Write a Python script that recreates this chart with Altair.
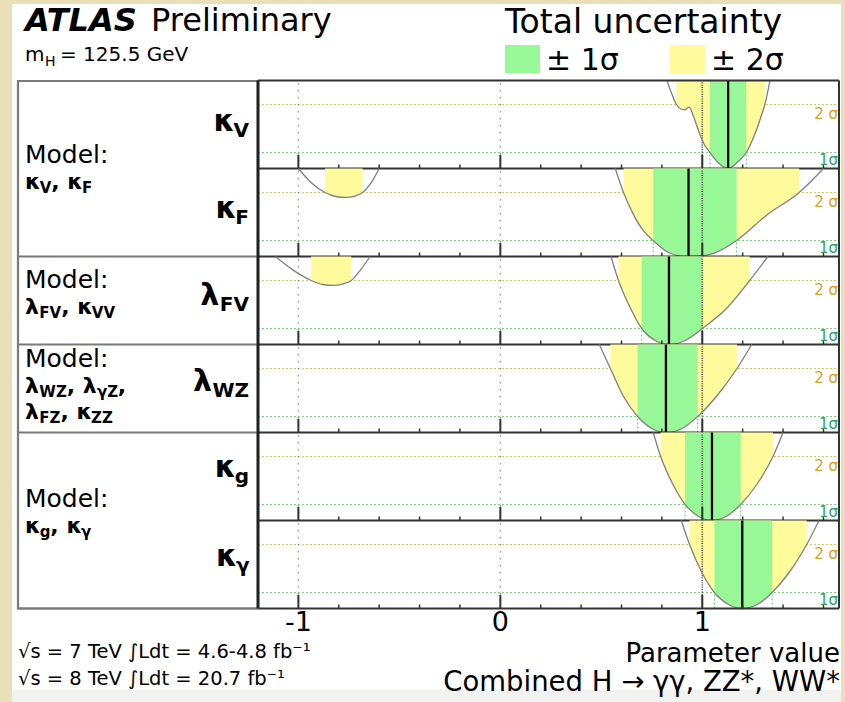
import altair as alt
import pandas as pd

# ---------------- data (-2 ln Lambda scans) ----------------
kV_x = [0.825, 0.848, 0.872, 0.895, 0.915, 0.935, 0.958, 0.982, 1.008, 1.038, 1.080, 1.128, 1.175, 1.218, 1.262, 1.290, 1.310, 1.335]
kV_v = [5.5, 4.7, 4.0, 3.72, 3.67, 3.83, 3.2, 2.35, 1.55, 1.0, 0.35, 0.0, 0.40, 1.0, 2.2, 3.2, 4.0, 5.5]

kF_x = [0.569, 0.610, 0.660, 0.710, 0.757, 0.825, 0.880, 0.932, 0.990, 1.056, 1.170, 1.320, 1.480, 1.600]
kF_v = [5.5, 4.0, 2.6, 1.58, 1.0, 0.30, 0.06, 0.0, 0.03, 0.20, 1.0, 2.6, 4.0, 5.5]
kF2_x = [-1.000, -0.935, -0.868, -0.815, -0.766, -0.720, -0.682, -0.640, -0.600]
kF2_v = [5.5, 4.6, 4.0, 3.75, 3.69, 3.78, 4.0, 4.6, 5.5]

lFV_x = [0.548, 0.585, 0.645, 0.700, 0.767, 0.835, 0.915, 1.000, 1.120, 1.235, 1.325]
lFV_v = [5.5, 4.0, 2.25, 1.0, 0.25, 0.0, 0.25, 1.0, 2.25, 4.0, 5.5]
lFV2_x = [-1.114, -1.020, -0.937, -0.880, -0.831, -0.780, -0.738, -0.690, -0.645]
lFV2_v = [5.5, 4.6, 4.0, 3.75, 3.69, 3.78, 4.0, 4.7, 5.5]

lWZ_x = [0.490, 0.545, 0.610, 0.680, 0.750, 0.820, 0.900, 0.977, 1.070, 1.172, 1.245]
lWZ_v = [5.5, 4.0, 2.25, 1.0, 0.25, 0.0, 0.25, 1.0, 2.25, 4.0, 5.5]

kg_x = [0.757, 0.794, 0.855, 0.915, 0.982, 1.048, 1.118, 1.190, 1.270, 1.350, 1.400]
kg_v = [5.5, 4.0, 2.25, 1.0, 0.25, 0.0, 0.25, 1.0, 2.25, 4.0, 5.5]

kgam_x = [0.896, 0.937, 0.998, 1.060, 1.130, 1.198, 1.272, 1.346, 1.430, 1.517, 1.578]
kgam_v = [5.5, 4.0, 2.25, 1.0, 0.25, 0.0, 0.25, 1.0, 2.25, 4.0, 5.5]

best_fit = [1.128, 0.932, 0.835, 0.820, 1.048, 1.198]
sigma1_lo = [1.038, 0.757, 0.700, 0.680, 0.915, 1.060]
sigma1_hi = [1.218, 1.170, 1.000, 0.977, 1.190, 1.346]

major_ticks = [-1, 0, 1]
minor_ticks = [-0.8, -0.6, -0.4, -0.2, 0.2, 0.4, 0.6, 0.8, 1.2, 1.4, 1.6]
tick_labels = ["-1", "0", "1"]
grey_refs = [-1, 0]
sm_ref = [1]
sigma_levels = [1.0, 4.0]

# ---------------- layout / style ----------------
W, H = 845, 702
X_DOM = [-1.2, 1.677]
X_RNG = [258, 839]
PANEL_TOP = [80.5, 168.5, 256.5, 344.5, 432.5, 520.5]
PANEL_H = 88
Y_DOM = [0, 5.5]
GREEN = "#98f898"
YELLOW = "#fffa9c"
FONT = "DejaVu Sans"
ONE = alt.Data(values=[{"a": 1}])


def xscale():
    return alt.Scale(domain=X_DOM, range=X_RNG, nice=False, zero=False)


def hrule(x1, x2, y1, y2, color, width, dash=None):
    kw = dict(color=color, strokeWidth=width)
    if dash:
        kw["strokeDash"] = dash
    return alt.Chart(ONE).mark_rule(**kw).encode(
        x=alt.value(x1), x2=alt.value(x2), y=alt.value(y1), y2=alt.value(y2))


def txt(s, x, y, size, weight="normal", style="normal", align="left", color="black", font=FONT, baseline="alphabetic"):
    return alt.Chart(ONE).mark_text(
        text=s, align=align, baseline=baseline, fontSize=size, fontWeight=weight,
        fontStyle=style, color=color, font=font).encode(x=alt.value(x), y=alt.value(y))


WID_B = {"V": .774, "F": .683, "W": 1.103, "Z": .725, "g": .716, "γ": .652, "κ": .665, "λ": .652, ",": .38, " ": .348}


def seq(pieces, x, y, align="left"):
    total = sum(sum(WID_B.get(c, .65) for c in t) * s for t, s, dy in pieces)
    cx = x - total if align == "right" else x
    out = []
    for t, s, dy in pieces:
        out.append(txt(t, cx, y + dy, s, weight="bold"))
        cx += sum(WID_B.get(c, .65) for c in t) * s
    return out


def panel(i, segs, full_bottom):
    top = PANEL_TOP[i]
    ysc = alt.Scale(domain=Y_DOM, range=[top + PANEL_H, top], nice=False, zero=False)
    rows = []
    for k, (xa, va) in enumerate(segs):
        rows += [{"x": a, "v": b, "seg": k} for a, b in zip(xa, va)]
    df = pd.DataFrame(rows)
    X = alt.X("x:Q", scale=xscale(), axis=None)
    Y = alt.Y("v:Q", scale=ysc, axis=None)
    Y0 = alt.YDatum(0, scale=ysc, axis=None)
    base = alt.Chart(df)

    sig = alt.Chart(pd.DataFrame({"v": sigma_levels, "c": ["1", "2"]})).mark_rule(
        strokeWidth=1, strokeDash=[2, 2]).encode(
        y=Y, x=alt.value(X_RNG[0]), x2=alt.value(X_RNG[1]),
        color=alt.Color("c:N", scale=alt.Scale(domain=["1", "2"], range=["#7dd27d", "#cccc66"]), legend=None))
    refs = alt.Chart(pd.DataFrame({"x": grey_refs})).mark_rule(
        color="#9a9a9a", strokeWidth=1.4, strokeDash=[1.5, 5.5]).encode(
        x=X, y=Y0, y2=alt.Y2Datum(5.5))
    yel = base.transform_filter("datum.v <= 4.001").mark_area(
        color=YELLOW, interpolate="monotone", clip=True).encode(
        x=X, y=Y, y2=alt.Y2Datum(5.5), detail="seg:N")
    grn = base.transform_filter("datum.v <= 1.001").mark_area(
        color=GREEN, interpolate="monotone", clip=True).encode(
        x=X, y=Y, y2=alt.Y2Datum(5.5), detail="seg:N")
    g_v = alt.Chart(pd.DataFrame({"x": [sigma1_lo[i], sigma1_hi[i]]})).mark_rule(
        color="#6cc66c", strokeWidth=1, strokeDash=[2, 2]).encode(
        x=X, y=Y0, y2=alt.Y2Datum(1.0))
    one = alt.Chart(pd.DataFrame({"x": sm_ref})).mark_rule(
        color="#444444", strokeWidth=1.6, strokeDash=[1, 1.3]).encode(
        x=X, y=Y0, y2=alt.Y2Datum(5.5))
    curve = base.mark_line(color="#808080", strokeWidth=1.3, interpolate="monotone", clip=True).encode(
        x=X, y=Y, detail="seg:N")
    best = alt.Chart(pd.DataFrame({"x": [best_fit[i]]})).mark_rule(
        color="black", strokeWidth=2.3).encode(x=X, y=Y0, y2=alt.Y2Datum(5.5))
    maj = alt.Chart(pd.DataFrame({"x": major_ticks})).mark_rule(
        color="#333333", strokeWidth=2).encode(x=X, y=Y0, y2=alt.Y2Datum(0.85))
    mnr = alt.Chart(pd.DataFrame({"x": minor_ticks})).mark_rule(
        color="#333333", strokeWidth=1.5).encode(x=X, y=Y0, y2=alt.Y2Datum(0.25))
    layers = [sig, refs, yel, grn, g_v, one, curve, best, maj, mnr]
    if full_bottom:
        layers.append(alt.Chart(ONE).mark_rule(color="#7a7a7a", strokeWidth=2.2).encode(
            y=Y0, x=alt.value(18), x2=alt.value(X_RNG[0])))
    layers.append(alt.Chart(ONE).mark_rule(color="#333333", strokeWidth=2.2).encode(
        y=Y0, x=alt.value(X_RNG[0]), x2=alt.value(X_RNG[1])))
    layers.append(alt.Chart(ONE).mark_text(text="2 σ", align="right", baseline="top", dy=2,
                                           fontSize=15, color="#d6a21f", font=FONT).encode(
        x=alt.value(838), y=alt.YDatum(4.0, scale=ysc, axis=None)))
    layers.append(alt.Chart(ONE).mark_text(text="1σ", align="right", baseline="bottom", dy=-1,
                                           fontSize=15, color="#28a56a", font=FONT).encode(
        x=alt.value(838), y=Y0))
    return alt.layer(*layers)


segs_all = [
    [(kV_x, kV_v)],
    [(kF_x, kF_v), (kF2_x, kF2_v)],
    [(lFV_x, lFV_v), (lFV2_x, lFV2_v)],
    [(lWZ_x, lWZ_v)],
    [(kg_x, kg_v)],
    [(kgam_x, kgam_v)],
]
full_bottoms = [False, True, True, True, False, True]

layers = []
# backgrounds
layers.append(alt.Chart(ONE).mark_rect(color="white").encode(
    x=alt.value(12), x2=alt.value(841), y=alt.value(4), y2=alt.value(690)))
layers.append(alt.Chart(ONE).mark_rect(color="#f2f2f0").encode(
    x=alt.value(12), x2=alt.value(841), y=alt.value(690), y2=alt.value(H)))

for i in range(6):
    layers.append(panel(i, segs_all[i], full_bottoms[i]))

# frames
layers.append(alt.Chart(ONE).mark_rect(fillOpacity=0, stroke="#7a7a7a", strokeWidth=2.2).encode(
    x=alt.value(18), x2=alt.value(X_RNG[0]), y=alt.value(81), y2=alt.value(608.5)))
layers.append(hrule(X_RNG[0], X_RNG[1], 80.5, 80.5, "#333333", 2.2))
layers.append(hrule(X_RNG[0], X_RNG[0], 80.5, 608.5, "#222222", 3))
layers.append(hrule(X_RNG[1], X_RNG[1], 80.5, 608.5, "#333333", 2))

# x tick labels
layers.append(alt.Chart(pd.DataFrame({"x": major_ticks, "t": tick_labels})).mark_text(
    fontSize=27, font=FONT, baseline="alphabetic", align="center", color="black").encode(
    x=alt.X("x:Q", scale=xscale(), axis=None), y=alt.value(631), text="t:N"))

# header
layers.append(txt("ATLAS", 25, 31, 32, weight="bold", style="italic"))
layers.append(txt("Preliminary", 151, 31, 32))
layers.append(txt("m", 25, 61, 20))
layers.append(txt("H", 45, 66, 14))
layers.append(txt("= 125.5 GeV", 60, 61, 20))
layers.append(txt("Total uncertainty", 505, 33, 33))
layers.append(alt.Chart(ONE).mark_rect(color=GREEN).encode(
    x=alt.value(505), x2=alt.value(540), y=alt.value(45), y2=alt.value(73)))
layers.append(alt.Chart(ONE).mark_rect(color=YELLOW).encode(
    x=alt.value(670), x2=alt.value(705), y=alt.value(45), y2=alt.value(73)))
layers.append(txt("± 1σ", 546, 70, 30))
layers.append(txt("± 2σ", 711, 70, 30))

# footer
layers.append(txt("√s = 7 TeV ∫Ldt = 4.6-4.8 fb⁻¹", 18, 658, 19.5))
layers.append(txt("√s = 8 TeV ∫Ldt = 20.7 fb⁻¹", 18, 685, 19.5))
layers.append(txt("Parameter value", 840, 662, 26, align="right"))
layers.append(txt("Combined H → γγ, ZZ*, WW*", 840, 691, 27.5, align="right"))

# left column
for yb in [163, 288, 367, 507]:
    layers.append(txt("Model:", 25, yb, 25))
G, S, D = 22, 15, 4
layers += seq([("κ", G, 0), ("V", S, D), (", ", G, 0), ("κ", G, 0), ("F", S, D)], 25, 189)
layers += seq([("λ", G, 0), ("FV", S, D), (", ", G, 0), ("κ", G, 0), ("VV", S, D)], 25, 314)
layers += seq([("λ", G, 0), ("WZ", S, D), (", ", G, 0), ("λ", G, 0), ("γZ", S, D), (",", G, 0)], 25, 393)
layers += seq([("λ", G, 0), ("FZ", S, D), (", ", G, 0), ("κ", G, 0), ("ZZ", S, D)], 25, 419)
layers += seq([("κ", G, 0), ("g", S, D), (", ", G, 0), ("κ", G, 0), ("γ", S, D)], 25, 533)

BG, BS, BD = 30, 20, 6
layers += seq([("κ", BG, 0), ("V", BS, BD)], 249, 131, align="right")
layers += seq([("κ", BG, 0), ("F", BS, BD)], 249, 218, align="right")
layers += seq([("λ", BG, 0), ("FV", BS, BD)], 249, 305, align="right")
layers += seq([("λ", BG, 0), ("WZ", BS, BD)], 249, 391, align="right")
layers += seq([("κ", BG, 0), ("g", BS, BD)], 249, 477, align="right")
layers += seq([("κ", BG, 0), ("γ", BS, BD)], 249, 566, align="right")

chart = alt.layer(*layers).resolve_scale(y="independent").properties(
    width=W, height=H, autosize=alt.AutoSizeParams(type="none"), padding=0,
    background="#ebdfb8").configure_view(stroke=None)

chart.save("out.html", embed_options={"renderer": "svg", "actions": False})
